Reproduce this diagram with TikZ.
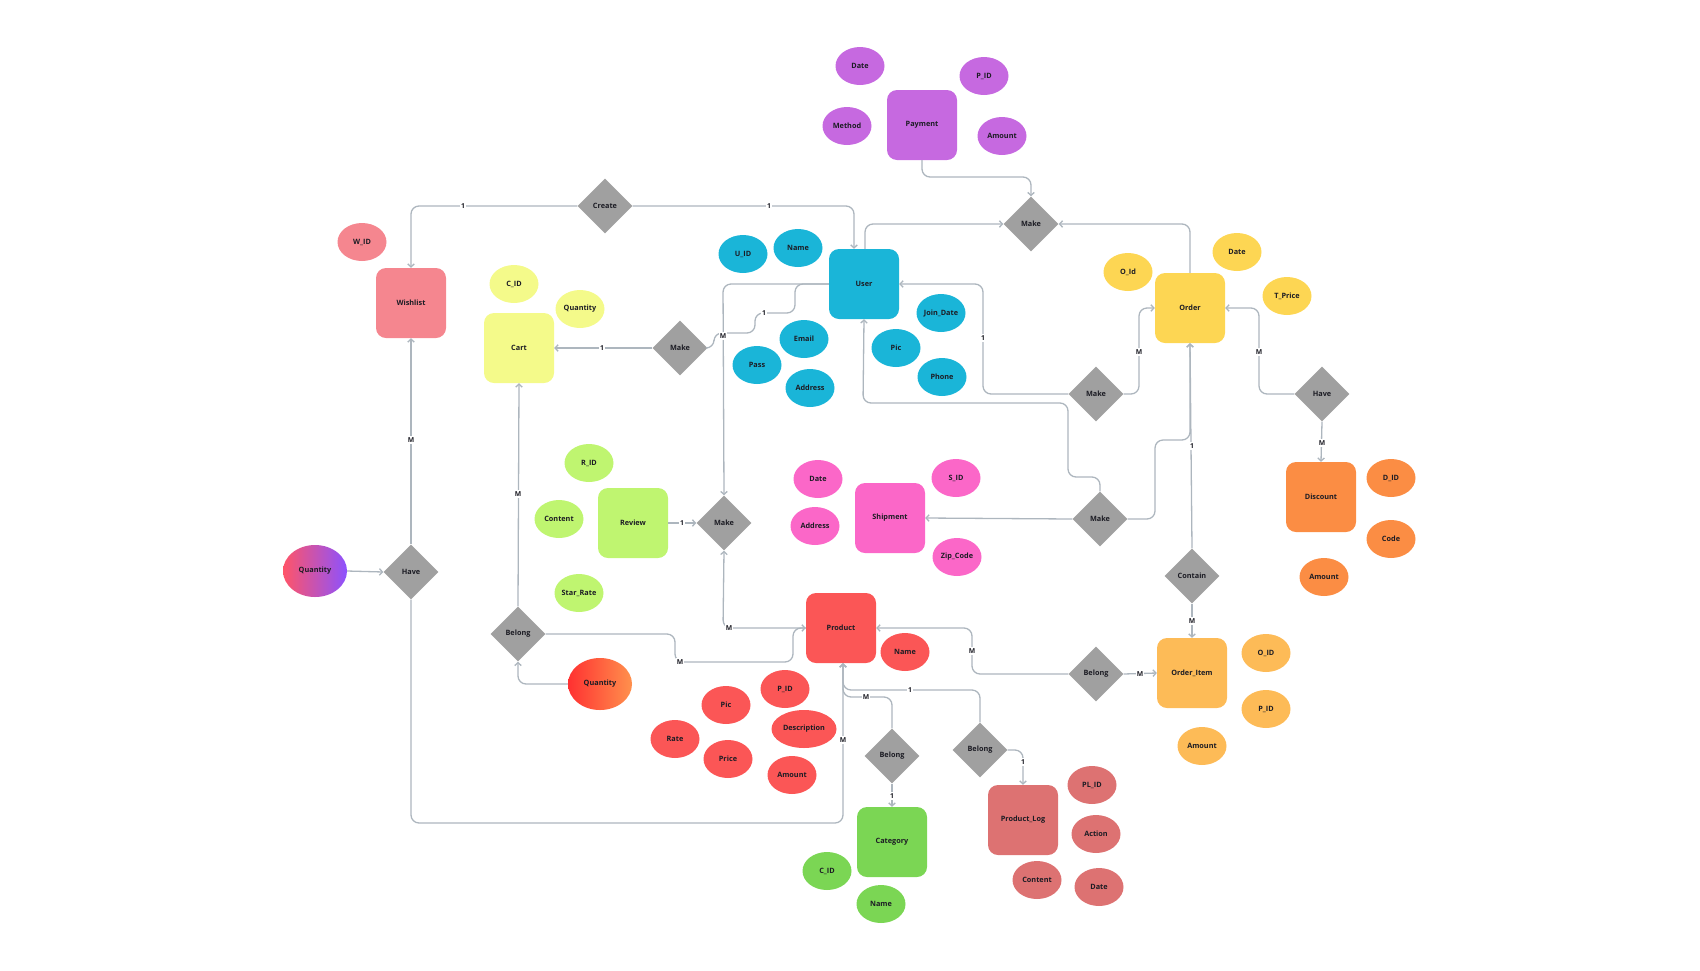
\documentclass[tikz,border=0pt]{standalone}
\usepackage{fontspec}
\setmainfont{Open Sans}
\usetikzlibrary{shapes.geometric,arrows.meta}

\definecolor{cUser}{HTML}{1AB5D8}
\definecolor{cPay}{HTML}{C669E0}
\definecolor{cWish}{HTML}{F5868F}
\definecolor{cCart}{HTML}{F4FA8A}
\definecolor{cOrder}{HTML}{FDD653}
\definecolor{cDisc}{HTML}{FB8D44}
\definecolor{cOI}{HTML}{FDBB57}
\definecolor{cRev}{HTML}{BFF570}
\definecolor{cShip}{HTML}{FB67C8}
\definecolor{cProd}{HTML}{FB5656}
\definecolor{cCat}{HTML}{7BD654}
\definecolor{cPlog}{HTML}{DD7272}
\definecolor{cRel}{HTML}{A0A0A0}
\definecolor{cLine}{HTML}{ADB6BE}
\definecolor{cText}{HTML}{1C1C24}
\definecolor{gPink}{HTML}{FF5468}
\definecolor{gPurple}{HTML}{8C52FF}
\definecolor{gRed}{HTML}{FF3131}
\definecolor{gOrange}{HTML}{FF914D}

\tikzset{
  txt/.style={font=\bfseries\fontsize{7.3}{8}\selectfont, text=cText},
  entity/.style={txt, rounded corners=10pt, minimum width=70pt, minimum height=70pt, inner sep=0pt},
  attr/.style={txt, ellipse, minimum width=49pt, minimum height=38pt, inner sep=0pt},
  rel/.style={txt, diamond, fill=cRel, minimum width=55pt, minimum height=55pt, inner sep=0pt},
  link/.style={draw=cLine, line width=1.3pt, rounded corners=8pt},
  arr/.style={link, -{Straight Barb[length=3pt,width=6.5pt]}},
  card/.style={fill=white, inner sep=1.2pt, font=\bfseries\fontsize{6.8}{7}\selectfont, text=cText},
}

\begin{document}
\begin{tikzpicture}[x=1pt,y=-1pt]
\useasboundingbox (0,0) rectangle (1700,970);

% ---------- entities ----------
\node[entity, fill=cPay]   (pay)   at (922,125) {Payment};
\node[entity, fill=cUser]  (user)  at (864,284) {User};
\node[entity, fill=cWish]  (wish)  at (411,303) {Wishlist};
\node[entity, fill=cCart]  (cart)  at (519,348) {Cart};
\node[entity, fill=cOrder] (order) at (1190,308) {Order};
\node[entity, fill=cDisc]  (disc)  at (1321,497) {Discount};
\node[entity, fill=cRev]   (rev)   at (633,523) {Review};
\node[entity, fill=cShip]  (ship)  at (890,518) {Shipment};
\node[entity, fill=cProd]  (prod)  at (841,628) {Product};
\node[entity, fill=cOI]    (oi)    at (1192,673) {Order\_Item};
\node[entity, fill=cCat]   (cat)   at (892,842) {Category};
\node[entity, fill=cPlog]  (plog)  at (1023,820) {Product\_Log};

% ---------- relationships ----------
\node[rel] (mkpay)  at (1031,224) {Make};
\node[rel] (create) at (605,206)  {Create};
\node[rel] (mkcart) at (680,348)  {Make};
\node[rel] (mkord)  at (1096,394) {Make};
\node[rel] (hvdisc) at (1322,394) {Have};
\node[rel] (mkrev)  at (724,523)  {Make};
\node[rel] (mkship) at (1100,519) {Make};
\node[rel] (contain) at (1192,576) {Contain};
\node[rel] (hvwish) at (411,572)  {Have};
\node[rel] (blcart) at (518,634)  {Belong};
\node[rel] (bloi)   at (1096,674) {Belong};
\node[rel] (blcat)  at (892,756)  {Belong};
\node[rel] (blplog) at (980,750)  {Belong};

% ---------- attributes ----------
% Payment
\node[attr, fill=cPay] (payDate) at (860,66)  {Date};
\node[attr, fill=cPay] (payPid)  at (984,76)  {P\_ID};
\node[attr, fill=cPay] (payMeth) at (847,126) {Method};
\node[attr, fill=cPay] (payAmt)  at (1002,136) {Amount};
% User
\node[attr, fill=cUser] (uId)    at (743,254) {U\_ID};
\node[attr, fill=cUser] (uName)  at (798,248) {Name};
\node[attr, fill=cUser] (uEmail) at (804,339) {Email};
\node[attr, fill=cUser] (uPass)  at (757,365) {Pass};
\node[attr, fill=cUser] (uAddr)  at (810,388) {Address};
\node[attr, fill=cUser] (uJoin)  at (941,313) {Join\_Date};
\node[attr, fill=cUser] (uPic)   at (896,348) {Pic};
\node[attr, fill=cUser] (uPhone) at (942,377) {Phone};
% Wishlist
\node[attr, fill=cWish] (wId) at (362,242) {W\_ID};
% Cart
\node[attr, fill=cCart] (cId)  at (514,284) {C\_ID};
\node[attr, fill=cCart] (cQty) at (580,309) {Quantity};
% Order
\node[attr, fill=cOrder] (oId)    at (1128,272) {O\_Id};
\node[attr, fill=cOrder] (oDate)  at (1237,252) {Date};
\node[attr, fill=cOrder] (oPrice) at (1287,296) {T\_Price};
% Discount
\node[attr, fill=cDisc] (dId)   at (1391,478) {D\_ID};
\node[attr, fill=cDisc] (dCode) at (1391,539) {Code};
\node[attr, fill=cDisc] (dAmt)  at (1324,577) {Amount};
% Review
\node[attr, fill=cRev] (rId)   at (589,463) {R\_ID};
\node[attr, fill=cRev] (rCont) at (559,519) {Content};
\node[attr, fill=cRev] (rStar) at (579,593) {Star\_Rate};
% Shipment
\node[attr, fill=cShip] (sDate) at (818,479) {Date};
\node[attr, fill=cShip] (sAddr) at (815,526) {Address};
\node[attr, fill=cShip] (sId)   at (956,478) {S\_ID};
\node[attr, fill=cShip] (sZip)  at (957,557) {Zip\_Code};
% Product
\node[attr, fill=cProd] (pName) at (905,652) {Name};
\node[attr, fill=cProd] (pId)   at (785,689) {P\_ID};
\node[attr, fill=cProd] (pPic)  at (726,705) {Pic};
\node[attr, fill=cProd, minimum width=65pt] (pDesc) at (804,729) {Description};
\node[attr, fill=cProd] (pRate) at (675,739) {Rate};
\node[attr, fill=cProd] (pPrice) at (728,759) {Price};
\node[attr, fill=cProd] (pAmt)  at (792,775) {Amount};
% Order_Item
\node[attr, fill=cOI] (oiOid) at (1266,653) {O\_ID};
\node[attr, fill=cOI] (oiPid) at (1266,709) {P\_ID};
\node[attr, fill=cOI] (oiAmt) at (1202,746) {Amount};
% Category
\node[attr, fill=cCat] (catId)   at (827,871) {C\_ID};
\node[attr, fill=cCat] (catName) at (881,904) {Name};
% Product_Log
\node[attr, fill=cPlog] (plId)   at (1092,785) {PL\_ID};
\node[attr, fill=cPlog] (plAct)  at (1096,834) {Action};
\node[attr, fill=cPlog] (plCont) at (1037,880) {Content};
\node[attr, fill=cPlog] (plDate) at (1099,887) {Date};
% relationship attributes (gradient fill)
\node[attr, minimum width=64pt, minimum height=52pt, left color=gPink, right color=gPurple] (qtyWish) at (315,571) {Quantity};
\node[attr, minimum width=64pt, minimum height=52pt, left color=gRed, right color=gOrange] (qtyCart) at (600,684) {Quantity};

% ---------- connectors ----------
% Payment / User / Order -- Make
\draw[arr] (pay.south) -- (922,177) -- (1031,177) -- (mkpay.north);
\draw[arr] ([xshift=1pt]user.north) |- (mkpay.west);
\draw[arr] (order.north) |- (mkpay.east);
% Create
\draw[arr] (create.west) -| (wish.north);
\draw[arr] (create.east) -| ([xshift=-10pt]user.north);
\node[card] at (463,206) {1};
\node[card] at (769,206) {1};
% Make (Cart)
\draw[arr] (mkcart.west) -- (cart.east);
\node[card] at (602,348) {1};
\draw[link] (mkcart.east) -- (714,348) -- (714,333) -- (755,333) -- (755,313) -- (795,313) -- (795,284) -- (user.west);
% User -- Make (Review)
\draw[arr] (user.west) -- (723,284) -- (mkrev.north);
\node[card] at (723,336) {M};
\node[card] at (764,313) {1};
% Make (Order)
\draw[arr] (mkord.west) -- (983,394) -- (983,284) -- (user.east);
\node[card] at (983,338) {1};
\draw[arr] (mkord.east) -- (1139,394) -- (1139,308) -- (order.west);
\node[card] at (1139,352) {M};
% Have (Discount)
\draw[arr] (hvdisc.west) -- (1259,394) -- (1259,308) -- (order.east);
\node[card] at (1259,352) {M};
\draw[arr] (hvdisc.south) -- (disc.north);
\node[card] at (1322,443) {M};
% Contain
\draw[arr] (mkship.east) -- (1155,519) -- (1155,440) -- (1190,440) -- (order.south);
\draw[arr] (contain.north) -- (order.south);
\node[card] at (1192,446) {1};
\draw[arr] (contain.south) -- (oi.north);
\node[card] at (1192,621) {M};
% Make (Shipment)
\draw[arr] (mkship.north) -- (1100,477) -- (1068,477) -- (1068,403) -- (863,403) -- (user.south);
\draw[arr] (mkship.west) -- (ship.east);
% Review -- Make
\draw[arr] (rev.east) -- (mkrev.west);
\node[card] at (682,523) {1};
\draw[arr] (prod.west) -- (723,628) -- (mkrev.south);
% Belong (Cart)
\draw[arr] (blcart.east) -- (675,634) -- (675,662) -- (793,662) -- (793,628) -- (prod.west);
\node[card] at (680,662) {M};
\node[card] at (729,628) {M};
\draw[arr] (blcart.north) -- (cart.south);
\node[card] at (518,494) {M};
\draw[arr] (qtyCart.west) -| (blcart.south);
% Have (Wishlist)
\draw[arr] (qtyWish.east) -- (hvwish.west);
\draw[arr] (hvwish.north) -- (wish.south);
\node[card] at (411,440) {M};
\draw[arr] (hvwish.south) -- (411,823) -- (843,823) -- ([xshift=2pt]prod.south);
\node[card] at (843,740) {M};
% Belong (Category / Product_Log)
\draw[arr] (blcat.north) -- (892,697) -- (843,697) -- ([xshift=2pt]prod.south);
\node[card] at (866,697) {M};
\draw[arr] (blplog.north) -- (980,690) -- (843,690) -- ([xshift=2pt]prod.south);
\node[card] at (910,690) {1};
\draw[arr] (blcat.south) -- (cat.north);
\node[card] at (892,796) {1};
\draw[arr] (blplog.east) -- (1023,750) -- (plog.north);
\node[card] at (1023,762) {1};
% Belong (Order_Item)
\draw[arr] (bloi.west) -- (972,674) -- (972,628) -- (prod.east);
\node[card] at (972,651) {M};
\draw[arr] (bloi.east) -- (oi.west);
\node[card] at (1140,674) {M};
\end{tikzpicture}
\end{document}
